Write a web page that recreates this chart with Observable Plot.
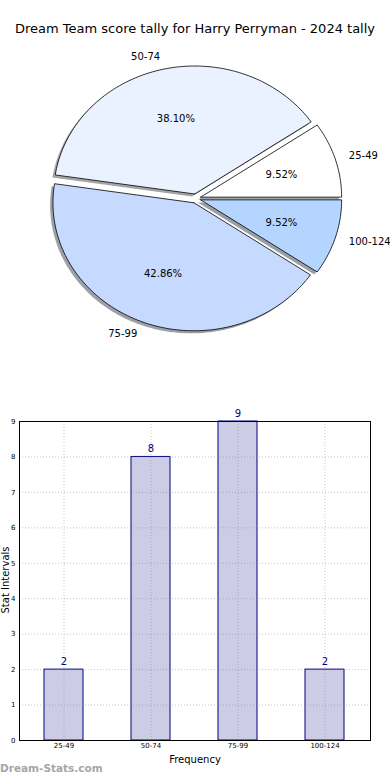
<!DOCTYPE html>
<html><head><meta charset="utf-8">
<script src="https://cdn.jsdelivr.net/npm/d3@7"></script>
<script src="https://cdn.jsdelivr.net/npm/@observablehq/plot@0.6"></script>
<style>
body{margin:0;background:#fff;font-family:"DejaVu Sans",sans-serif;}
#fig{position:relative;width:390px;height:780px;overflow:hidden;background:#fff;}
#fig svg{position:absolute;left:0;font-family:"DejaVu Sans",sans-serif;}
.lbl{position:absolute;white-space:nowrap;color:#000;}
#title{top:21px;left:0;width:390px;text-align:center;font-size:13px;}
#xlabel{top:754px;left:0;width:390px;padding-left:0;text-align:center;font-size:10px;}
#ylabel{left:6px;top:580px;font-size:10px;line-height:10px;transform:translate(-50%,-50%) rotate(-90deg);}
#wm{left:0;top:762px;font-size:10.5px;font-weight:bold;color:#a6a6a6;}
</style></head>
<body><div id="fig">
<div class="lbl" id="title">Dream Team score tally for Harry Perryman - 2024 tally</div>
<div class="lbl" id="xlabel"></div>
<div class="lbl" id="ylabel"></div>
<div class="lbl" id="wm">Dream-Stats.com</div>
</div>
<script>
const categories = ["25-49", "50-74", "75-99", "100-124"];
const counts = [2, 8, 9, 2];
const sliceColors = ["#ffffff", "#ebf2ff", "#c6d9ff", "#b3d5ff"];
const yTicks = [0, 1, 2, 3, 4, 5, 6, 7, 8, 9];
const xTitle = "Frequency";
const yTitle = "Stat Intervals";

document.getElementById("xlabel").textContent = xTitle;
document.getElementById("ylabel").textContent = yTitle;

const fig = document.getElementById("fig");

// ---- Pie ----
const total = d3.sum(counts);
const explode = 0.036;
const shadowOff = 0.02;
let cum = 0;
const slices = categories.map((c, i) => {
  const a0 = 2 * Math.PI * cum / total;
  cum += counts[i];
  const a1 = 2 * Math.PI * cum / total;
  const mid = (a0 + a1) / 2;
  const ox = explode * Math.cos(mid), oy = explode * Math.sin(mid);
  const steps = Math.max(8, Math.ceil((a1 - a0) / (Math.PI / 120)));
  const pts = [{x: ox, y: oy}];
  for (let k = 0; k <= steps; k++) {
    const a = a0 + (a1 - a0) * k / steps;
    pts.push({x: ox + Math.cos(a), y: oy + Math.sin(a)});
  }
  pts.push({x: ox, y: oy});
  return {cat: c, count: counts[i], color: sliceColors[i], mid, ox, oy, pts,
    pct: (100 * counts[i] / total).toFixed(2) + "%"};
});

function darken(hex) {
  const c = d3.rgb(hex);
  return d3.rgb(c.r * 0.3, c.g * 0.3, c.b * 0.3).formatHex();
}

const pieMarks = [];
slices.forEach(s => {
  pieMarks.push(Plot.line(s.pts, {x: d => d.x - shadowOff, y: d => d.y - shadowOff,
    fill: darken(s.color), fillOpacity: 0.5, stroke: "none", curve: "linear"}));
});
slices.forEach(s => {
  pieMarks.push(Plot.line(s.pts, {x: "x", y: "y", fill: s.color, stroke: "#000",
    strokeWidth: 0.8, curve: "linear", strokeLinejoin: "miter"}));
});
const outer = slices.map(s => ({x: s.ox + 1.1 * Math.cos(s.mid), y: s.oy + 1.1 * Math.sin(s.mid), t: s.cat, right: Math.cos(s.mid) > 0}));
const inner = slices.map(s => ({x: s.ox + 0.6 * Math.cos(s.mid), y: s.oy + 0.6 * Math.sin(s.mid), t: s.pct}));
pieMarks.push(Plot.text(outer.filter(d => d.right), {x: "x", y: "y", text: "t", textAnchor: "start", fontSize: 10, fill: "#000"}));
pieMarks.push(Plot.text(outer.filter(d => !d.right), {x: "x", y: "y", text: "t", textAnchor: "end", fontSize: 10, fill: "#000"}));
pieMarks.push(Plot.text(inner, {x: "x", y: "y", text: "t", textAnchor: "middle", fontSize: 10, fill: "#000"}));

const pie = Plot.plot({
  width: 390, height: 390,
  margin: 0,
  x: {domain: [-1, 1], range: [195.3 - 141, 195.3 + 141], axis: null},
  y: {domain: [-1, 1], range: [198 + 128, 198 - 128], axis: null},
  marks: pieMarks
});
pie.style.top = "0px";
pie.style.background = "transparent";
fig.appendChild(pie);

// ---- Bars ----
const barData = categories.map((c, i) => ({cat: c, count: counts[i]}));
const bars = Plot.plot({
  width: 390, height: 390,
  marginLeft: 19, marginRight: 20, marginTop: 31, marginBottom: 40,
  x: {domain: categories, paddingInner: 0.55, paddingOuter: 0.275, label: null},
  y: {domain: [0, 9], label: null},
  marks: [
    Plot.barY(barData, {x: "cat", y: "count", fill: "#ccccE6", stroke: "#000080", strokeWidth: 1}),
    Plot.gridY(yTicks, {stroke: "#808080", strokeOpacity: 0.45, strokeDasharray: "1,2"}),
    Plot.gridX(categories, {stroke: "#808080", strokeOpacity: 0.45, strokeDasharray: "1,2"}),
    Plot.frame({stroke: "#000", strokeWidth: 1}),
    Plot.axisY(yTicks, {tickSize: 0, tickPadding: 4, fontSize: 7, label: null}),
    Plot.axisX({tickSize: 0, tickPadding: 3, fontSize: 7, label: null}),
    Plot.text(barData, {x: "cat", y: "count", text: d => String(d.count), dy: -8, fill: "#000080", fontSize: 10})
  ]
});
bars.style.top = "390px";
bars.style.background = "transparent";
fig.appendChild(bars);
</script>
</body></html>
